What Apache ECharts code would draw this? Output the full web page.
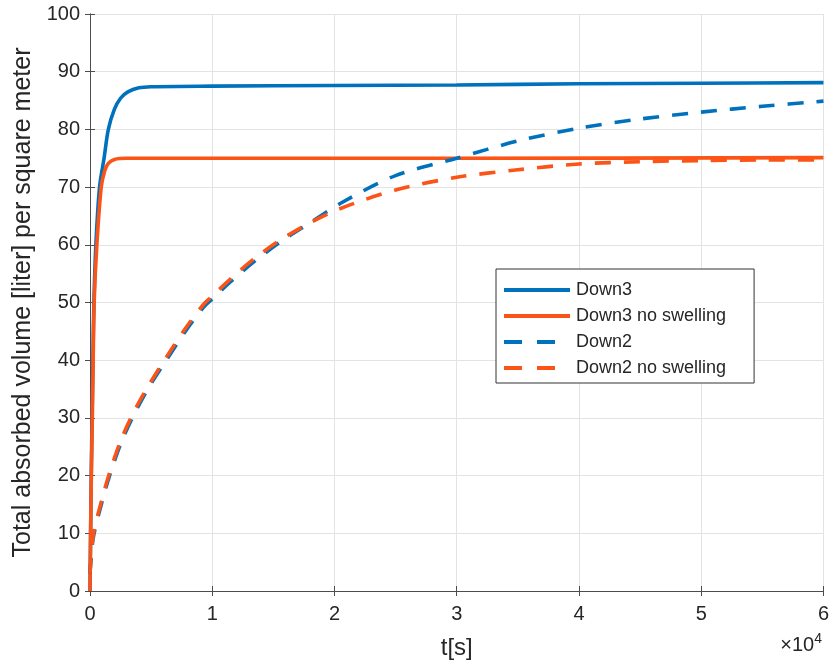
<!DOCTYPE html>
<html>
<head>
<meta charset="utf-8">
<script src="https://cdn.jsdelivr.net/npm/echarts@6/dist/echarts.min.js"></script>
<style>html,body{margin:0;padding:0;background:#fff;}#c{width:832px;height:665px;}</style>
</head>
<body>
<div id="c"></div>
<script>
// Time [s] and values
var down3 = [[0,0],[50,10],[100,20],[170,30],[240,40],[320,50],[480,60],[780,70],[1150,75],[1500,80],[2000,83.5],[2500,85.4],[3100,86.5],[4000,87.2],[5000,87.4],[10000,87.5],[20000,87.6],[30000,87.7],[40000,87.9],[50000,88],[60000,88.1]];
var down3NoSwelling = [[0,0],[50,10],[110,20],[190,30],[260,40],[340,50],[560,60],[920,70],[1200,72.8],[1500,74.1],[2000,74.8],[3000,75],[10000,75],[30000,75],[60000,75.1]];
var down2 = [[0,3],[250,9],[800,14],[1600,20],[2600,26],[3700,31],[4900,35.6],[6300,40.2],[7800,45],[9300,49.2],[10000,50.6],[11500,53.6],[13500,57.2],[15700,60.7],[18000,63.8],[20500,67.2],[25000,72],[30000,75],[35000,78],[40000,80.2],[45000,81.8],[50000,83],[55000,84],[60000,84.9]];
var down2NoSwelling = [[0,3],[250,9.5],[800,14.5],[1600,20.5],[2600,26.5],[3700,31.5],[4900,36],[6300,40.7],[7800,45.5],[9300,49.7],[10000,51.1],[11500,54.1],[13500,57.7],[15700,61],[18000,63.8],[20500,66.3],[25000,69.5],[30000,71.7],[35000,73],[40000,74],[45000,74.4],[50000,74.6],[55000,74.7],[60000,74.7]];
var seriesNames = ['Down3','Down3 no swelling','Down2','Down2 no swelling'];
var xTickScale = 1e4;

var BLUE = '#0072BD', ORANGE = '#FC5316';
var font = 'Liberation Sans, Arial, sans-serif';
var chart = echarts.init(document.getElementById('c'));
var axisLine = {show:true, lineStyle:{color:'#4d4d4d', width:1}};
var splitLine = {show:true, lineStyle:{color:'#e3e3e3', width:1}};
var tick = {show:true, inside:true, length:5, lineStyle:{color:'#4d4d4d'}};
var DASH = [16,13];
function mk(name, data, color, dashed) {
  return {name:name, type:'line', data:data, showSymbol:false, symbol:'none', smooth:0.3,
    lineStyle:{color:color, width:3.6, type: dashed ? DASH : 'solid'},
    itemStyle:{color:color}, z: dashed ? 3 : 2, animation:false};
}
function legItem(name, dashed) {
  return {name:name, lineStyle:{width:4, type: dashed ? [18,15] : 'solid'}};
}
chart.setOption({
  animation:false,
  grid:{left:90, right:8, top:14, bottom:72, containLabel:false},
  xAxis:[{type:'value', min:0, max:60000, interval:10000, position:'bottom',
    axisLine:axisLine, axisTick:tick, splitLine:splitLine,
    axisLabel:{color:'#262626', fontSize:20, fontFamily:font, margin:13, formatter:function(v){return v/xTickScale;}},
    name:'t[s]', nameLocation:'middle', nameGap:45, nameTextStyle:{color:'#262626', fontSize:24, fontFamily:font}},
    {type:'value', min:0, max:60000, interval:10000, position:'top',
    axisLine:axisLine, axisTick:tick, splitLine:{show:false}, axisLabel:{show:false}}],
  yAxis:[{type:'value', min:0, max:100, interval:10, position:'left',
    axisLine:axisLine, axisTick:tick, splitLine:splitLine,
    axisLabel:{color:'#262626', fontSize:20, fontFamily:font, margin:10},
    name:'Total absorbed volume [liter] per square meter', nameLocation:'middle', nameGap:52,
    nameTextStyle:{color:'#262626', fontSize:25, fontFamily:font}},
    {type:'value', min:0, max:100, interval:10, position:'right',
    axisLine:axisLine, axisTick:tick, splitLine:{show:false}, axisLabel:{show:false}}],
  legend:{orient:'vertical', left:496, top:269,
    data:[legItem(seriesNames[0],false), legItem(seriesNames[1],false), legItem(seriesNames[2],true), legItem(seriesNames[3],true)],
    itemWidth:66, itemHeight:12, itemGap:8,
    itemStyle:{opacity:0},
    backgroundColor:'#fff', borderColor:'#333', borderWidth:1, padding:[12,28,6,6],
    textStyle:{color:'#262626', fontSize:18, lineHeight:18, fontFamily:font, padding:[0,0,0,1]}},
  graphic:[{type:'text', right:10, top:632, style:{text:'×10{s|4}', rich:{s:{fontSize:14, verticalAlign:'top', padding:[0,0,12,0], fontFamily:font, fill:'#262626'}}, font:'20px '+font, fill:'#262626'}}],
  series:[mk(seriesNames[0], down3, BLUE, false), mk(seriesNames[1], down3NoSwelling, ORANGE, false),
          mk(seriesNames[2], down2, BLUE, true), mk(seriesNames[3], down2NoSwelling, ORANGE, true)]
});
</script>
</body>
</html>
